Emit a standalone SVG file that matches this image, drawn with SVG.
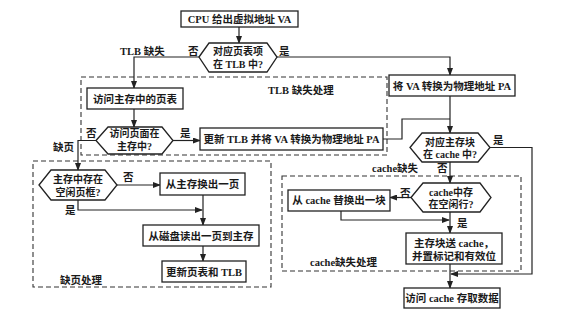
<svg xmlns="http://www.w3.org/2000/svg" width="580" height="314" viewBox="0 0 580 314">
<defs>
<marker id="ah" markerWidth="8" markerHeight="6" refX="7" refY="3" orient="auto" markerUnits="userSpaceOnUse">
<path d="M0,0 L8,3 L0,6 z" fill="#222"/>
</marker>
<style>
.box{fill:#fff;stroke:#222;stroke-width:1.3}
.dash{fill:none;stroke:#333;stroke-width:1.1;stroke-dasharray:5,3}
.ln{fill:none;stroke:#222;stroke-width:1.2}
.arr{fill:none;stroke:#222;stroke-width:1.2;marker-end:url(#ah)}
text{font-family:"Liberation Serif","Noto Sans CJK SC",serif;font-size:10.5px;fill:#1a1a1a;font-weight:bold}
.c{text-anchor:middle}
.h{font-size:10px}
</style>
</defs>
<rect width="580" height="314" fill="#fff"/>
<g id="regions">
<rect class="dash" x="81" y="77" width="306" height="78"/>
<rect class="dash" x="33" y="161" width="238" height="126"/>
<rect class="dash" x="282" y="176" width="239" height="95"/>
<text x="268" y="94">TLB 缺失处理</text>
<text x="60" y="284">缺页处理</text>
<text x="310" y="266">cache缺失处理</text>
</g>
<g id="connectors">
<path class="arr" d="M239,27 V43"/>
<path class="arr" d="M199,57 H134 V88"/>
<path class="arr" d="M277,57 H450 V75"/>
<path class="arr" d="M134,109 V127"/>
<path class="arr" d="M173,140.5 H200"/>
<path class="arr" d="M96,140.5 H78 V170"/>
<path class="ln" d="M383,139 H402 V119 H450"/>
<path class="arr" d="M450,96 V133"/>
<path class="arr" d="M490,147.5 H532 V274 H451"/>
<path class="arr" d="M450,162 V183"/>
<path class="arr" d="M411,197.5 H390"/>
<path class="arr" d="M341,211 V220 H449"/>
<path class="arr" d="M450,212 V233"/>
<path class="arr" d="M450,264 V288"/>
<path class="arr" d="M117,185 H160"/>
<path class="arr" d="M78,200 V210 H202"/>
<path class="arr" d="M203,195 V225"/>
<path class="arr" d="M203,246 V261"/>
<text x="120" y="55">TLB 缺失</text>
<text x="188" y="55">否</text>
<text x="279" y="55">是</text>
<text x="86" y="137">否</text>
<text x="53" y="151">缺页</text>
<text x="180" y="137">是</text>
<text x="123" y="181">否</text>
<text x="65" y="214">是</text>
<text x="493" y="144">是</text>
<text x="372" y="172">cache缺失</text>
<text x="437" y="172">否</text>
<text x="400" y="197">否</text>
<text x="457" y="227">是</text>
</g>
<g id="n_cpu">
<rect class="box" x="181" y="11" width="117" height="16"/>
<text class="c" x="239.5" y="23">CPU 给出虚拟地址 VA</text>
</g>
<g id="n_tlb_check">
<polygon class="box" points="199,57 209,43 267,43 277,57 267,72 209,72"/>
<text class="c h" x="238" y="55">对应页表项</text>
<text class="c h" x="238" y="68">在 TLB 中?</text>
</g>
<g id="n_pagetable">
<rect class="box" x="87" y="88" width="96" height="21"/>
<text class="c" x="135" y="102.5">访问主存中的页表</text>
</g>
<g id="n_page_check">
<polygon class="box" points="96,140.5 108,127 162,127 173,140.5 162,154 108,154"/>
<text class="c h" x="134.5" y="137">访问页面在</text>
<text class="c h" x="134.5" y="150">主存中?</text>
</g>
<g id="n_update_tlb">
<rect class="box" x="200" y="128" width="183" height="22"/>
<text class="c" x="291.5" y="143">更新 TLB 并将 VA 转换为物理地址 PA</text>
</g>
<g id="n_pa">
<rect class="box" x="389" y="75" width="126" height="21"/>
<text class="c" x="452" y="89.5">将 VA 转换为物理地址 PA</text>
</g>
<g id="n_cache_check">
<polygon class="box" points="410,147.5 422,133 478,133 490,147.5 478,162 422,162"/>
<text class="c h" x="450" y="146">对应主存块</text>
<text class="c h" x="450" y="158">在 cache 中?</text>
</g>
<g id="n_free_line">
<polygon class="box" points="411,197.5 423,183 480,183 491,197.5 480,212 423,212"/>
<text class="c h" x="451" y="196">cache中存</text>
<text class="c h" x="451" y="208">在空闲行?</text>
</g>
<g id="n_replace">
<rect class="box" x="288" y="190" width="102" height="21"/>
<text class="c" x="339" y="204">从 cache 替换出一块</text>
</g>
<g id="n_send">
<rect class="box" x="406" y="233" width="96" height="31"/>
<text class="c" x="454" y="247">主存块送 cache，</text>
<text class="c" x="454" y="260">并置标记和有效位</text>
</g>
<g id="n_access">
<rect class="box" x="404" y="288" width="96" height="20"/>
<text class="c" x="452" y="302">访问 cache 存取数据</text>
</g>
<g id="n_free_frame">
<polygon class="box" points="39,185 51,170 105,170 117,185 105,200 51,200"/>
<text class="c h" x="78" y="183">主存中存在</text>
<text class="c h" x="78" y="196">空闲页框?</text>
</g>
<g id="n_swap">
<rect class="box" x="160" y="173" width="85" height="22"/>
<text class="c" x="202.5" y="188">从主存换出一页</text>
</g>
<g id="n_disk">
<rect class="box" x="143" y="225" width="116" height="21"/>
<text class="c" x="201" y="239.5">从磁盘读出一页到主存</text>
</g>
<g id="n_update_pt">
<rect class="box" x="162" y="261" width="84" height="21"/>
<text class="c" x="204" y="275.5">更新页表和 TLB</text>
</g>
</svg>
